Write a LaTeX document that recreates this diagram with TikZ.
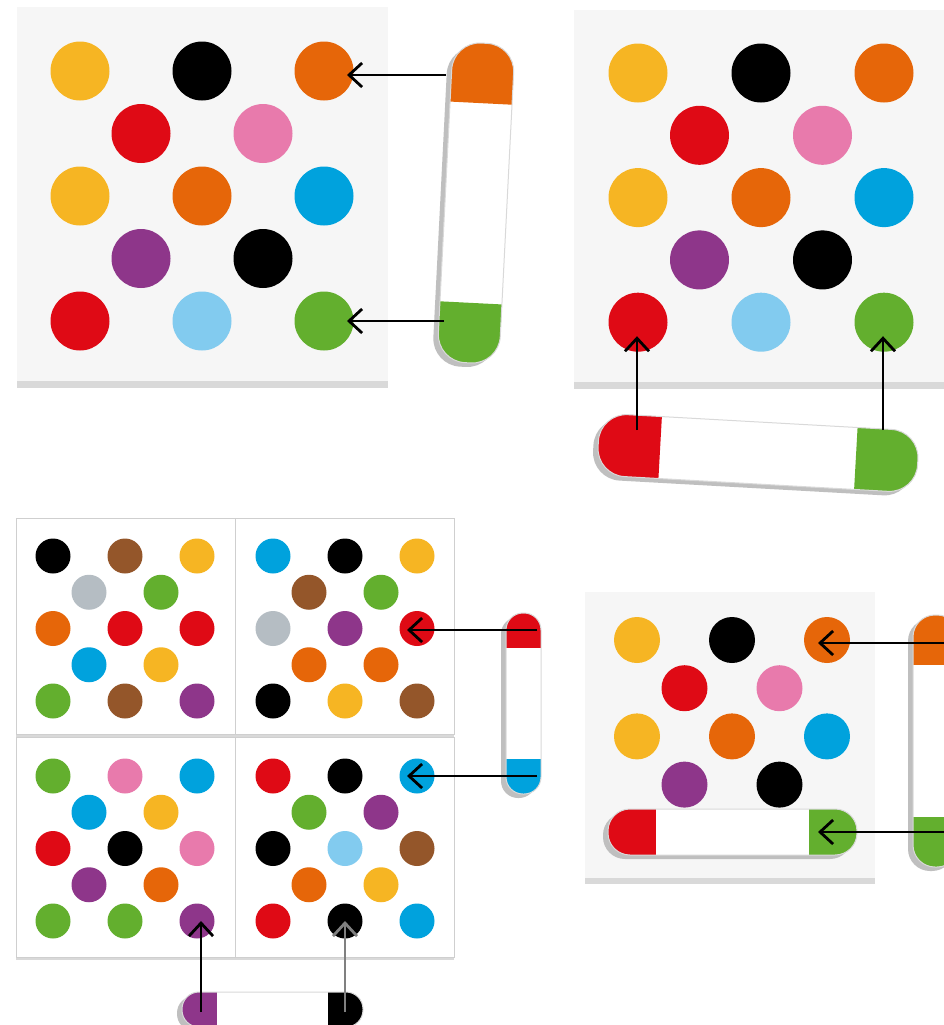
\documentclass[tikz,border=0pt]{standalone}
\usetikzlibrary{arrows.meta,calc}

\definecolor{amarillo}{HTML}{F6B523}
\definecolor{negro}{HTML}{000000}
\definecolor{naranja}{HTML}{E66609}
\definecolor{rojo}{HTML}{DF0A15}
\definecolor{rosa}{HTML}{E87AAC}
\definecolor{azul}{HTML}{00A2DD}
\definecolor{celeste}{HTML}{82CBEF}
\definecolor{morado}{HTML}{8E368A}
\definecolor{verde}{HTML}{63AF2E}
\definecolor{marron}{HTML}{94562A}
\definecolor{gris}{HTML}{B5BDC3}
\definecolor{tabla}{HTML}{F6F6F6}
\definecolor{borde}{HTML}{CFCFCF}

\tikzset{
  punto/.style={circle, inner sep=0pt, minimum size=#1, draw=none},
  flecha/.style={-{Straight Barb[length=6.5pt,width=12pt]}, line width=1.4pt},
  sombra/.style={fill=gray!50},
}

% regleta: centro, giro, medio largo, medio ancho, largo del color, color 1, color 2, radio
\newcommand{\regleta}[8]{%
  \begin{scope}[shift={#1}, xshift=-2.5pt, yshift=-2pt, rotate=#2]
    \fill[sombra, rounded corners=#8] (-#3,-#4) rectangle (#3,#4);
  \end{scope}
  \begin{scope}[shift={#1}, rotate=#2]
    \clip[rounded corners=#8] (-#3,-#4) rectangle (#3,#4);
    \fill[white] (-#3,-#4) rectangle (#3,#4);
    \fill[#6] (-#3,-#4) rectangle (-#3+#5,#4);
    \fill[#7] (#3-#5,-#4) rectangle (#3,#4);
  \end{scope}
  \begin{scope}[shift={#1}, rotate=#2]
    \draw[gray!30, line width=0.5pt, rounded corners=#8] (-#3,-#4) rectangle (#3,#4);
  \end{scope}}

\begin{document}
\begin{tikzpicture}[x=0.5pt, y=-0.5pt]
    \clip (0,0) rectangle (944,1025);
    \fill[white] (0,0) rectangle (944,1025);

    % Tablero 1
    \fill[gray!30] (17,12) rectangle (388,388);
    \fill[tabla] (17,7) rectangle (388,381);
    \foreach \c/\u/\v [count=\i] in {amarillo/0/0, negro/2/0, naranja/4/0, rojo/1/1, rosa/3/1,
        amarillo/0/2, naranja/2/2, azul/4/2, morado/1/3, negro/3/3, rojo/0/4, celeste/2/4, verde/4/4}
      \node[punto=29.5pt, fill=\c] (p1-\i) at (80+61*\u, 71+62.5*\v) {};

    % Tablero 2
    \fill[gray!30] (574,15) rectangle (950,389);
    \fill[tabla] (574,10) rectangle (950,382);
    \foreach \c/\u/\v [count=\i] in {amarillo/0/0, negro/2/0, naranja/4/0, rojo/1/1, rosa/3/1,
        amarillo/0/2, naranja/2/2, azul/4/2, morado/1/3, negro/3/3, rojo/0/4, celeste/2/4, verde/4/4}
      \node[punto=29.5pt, fill=\c] (p2-\i) at (638+61.5*\u, 73+62.3*\v) {};

    % Cuatro tableros
    \fill[gray!30] (16,521) rectangle (235,737);
    \fill[gray!30] (235,521) rectangle (454,737);
    \fill[gray!30] (16,740) rectangle (235,960);
    \fill[gray!30] (235,740) rectangle (454,960);
    \filldraw[fill=white, draw=borde] (16,518) rectangle (235,734);
    \filldraw[fill=white, draw=borde] (235,518) rectangle (454,734);
    \filldraw[fill=white, draw=borde] (16,737) rectangle (235,957);
    \filldraw[fill=white, draw=borde] (235,737) rectangle (454,957);
    \foreach \c/\u/\v [count=\i] in {negro/0/0, marron/2/0, amarillo/4/0, gris/1/1, verde/3/1,
        naranja/0/2, rojo/2/2, rojo/4/2, azul/1/3, amarillo/3/3, verde/0/4, marron/2/4, morado/4/4}
      \node[punto=17.5pt, fill=\c] (q1-\i) at (53+36*\u, 556+36.25*\v) {};
    \foreach \c/\u/\v [count=\i] in {azul/0/0, negro/2/0, amarillo/4/0, marron/1/1, verde/3/1,
        gris/0/2, morado/2/2, rojo/4/2, naranja/1/3, naranja/3/3, negro/0/4, amarillo/2/4, marron/4/4}
      \node[punto=17.5pt, fill=\c] (q2-\i) at (273+36*\u, 556+36.25*\v) {};
    \foreach \c/\u/\v [count=\i] in {verde/0/0, rosa/2/0, azul/4/0, azul/1/1, amarillo/3/1,
        rojo/0/2, negro/2/2, rosa/4/2, morado/1/3, naranja/3/3, verde/0/4, verde/2/4, morado/4/4}
      \node[punto=17.5pt, fill=\c] (q3-\i) at (53+36*\u, 776+36.25*\v) {};
    \foreach \c/\u/\v [count=\i] in {rojo/0/0, negro/2/0, azul/4/0, verde/1/1, morado/3/1,
        negro/0/2, celeste/2/2, marron/4/2, naranja/1/3, amarillo/3/3, rojo/0/4, negro/2/4, azul/4/4}
      \node[punto=17.5pt, fill=\c] (q4-\i) at (273+36*\u, 776+36.25*\v) {};

    % Tablero 4
    \fill[gray!30] (585,597) rectangle (875,884);
    \fill[tabla] (585,592) rectangle (875,878);
    \foreach \c/\u/\v [count=\i] in {amarillo/0/0, negro/2/0, naranja/4/0, rojo/1/1, rosa/3/1,
        amarillo/0/2, naranja/2/2, azul/4/2, morado/1/3, negro/3/3}
      \node[punto=23pt, fill=\c] (p4-\i) at (637+47.5*\u, 640+48.2*\v) {};

    % Regletas
    \regleta{(476,203)}{-92.9}{160}{31}{60}{naranja}{verde}{14pt}
    \regleta{(758,453)}{-3.2}{160}{31}{62}{rojo}{verde}{14pt}
    \regleta{(523.5,703.5)}{-90}{90.5}{17.5}{35}{rojo}{azul}{8.5pt}
    \regleta{(272.5,1009.5)}{0}{90.5}{17.5}{35}{morado}{negro}{8.5pt}
    \regleta{(732.5,832)}{0}{124.5}{23}{48}{rojo}{verde}{11pt}
    \regleta{(936,741)}{-90}{126}{23}{50}{naranja}{verde}{11pt}

    % Puntos de partida
    \coordinate (a1) at (446,75);
    \coordinate (a2) at (444,321);
    \coordinate (a3) at (637,430);
    \coordinate (a4) at (883,430);
    \coordinate (a5) at (537,630);
    \coordinate (a6) at (537,776);
    \coordinate (a7) at (201,1012);
    \coordinate (a8) at (345,1012);
    \coordinate (a9) at (946,643);
    \coordinate (a10) at (946,832);
    \coordinate (t10) at (818,832);

    % Flechas
    \draw[flecha, shorten >=11.5pt] (a1) -- (a1 -| p1-3);
    \draw[flecha, shorten >=11.5pt] (a2) -- (a2 -| p1-13);
    \draw[flecha, shorten >=7pt] (a3) -- (a3 |- p2-11);
    \draw[flecha, shorten >=7pt] (a4) -- (a4 |- p2-13);
    \draw[flecha, shorten >=-5pt] (a5) -- (a5 -| q2-8);
    \draw[flecha, shorten >=-5pt] (a6) -- (a6 -| q4-3);
    \draw[flecha] (a7) -- (a7 |- q3-13);
    \draw[flecha, gray] (a8) -- (a8 |- q4-12);
    \draw[flecha, shorten >=-4.5pt] (a9) -- (a9 -| p4-3);
    \draw[flecha] (a10) -- (t10);
\end{tikzpicture}
\end{document}
